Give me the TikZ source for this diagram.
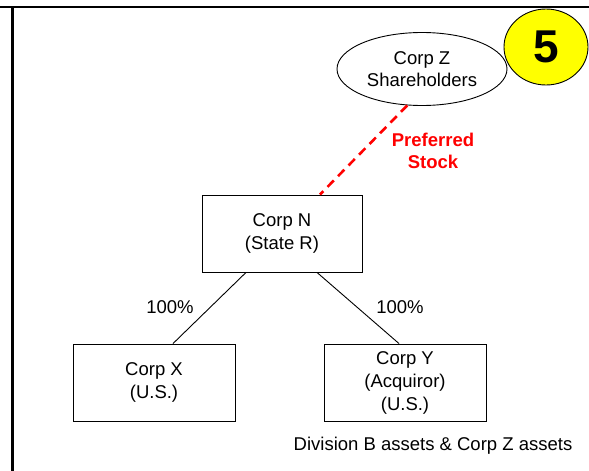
\documentclass[tikz,border=0pt]{standalone}
\usepackage{fontspec}
\setmainfont{Liberation Sans}
\usepackage{tikz}
\usetikzlibrary{shapes.geometric}
\definecolor{mRed}{HTML}{FF0000}
\definecolor{mYellow}{HTML}{FFFF00}
\tikzset{
  corpbox/.style={draw, rectangle, line width=0.9pt, minimum width=160pt,
                  minimum height=77pt, inner sep=0pt, align=center,
                  font=\fontsize{18.5}{23}\selectfont},
  holders/.style={draw, ellipse, line width=0.9pt, minimum width=170pt,
                  minimum height=73pt, inner sep=0pt, align=center,
                  font=\fontsize{18.5}{22}\selectfont},
  stepbadge/.style={draw, ellipse, line width=0.9pt, fill=mYellow,
                  minimum width=84pt, minimum height=76pt, inner sep=0pt,
                  font=\fontsize{46}{46}\selectfont\bfseries},
  ownline/.style={line width=0.9pt},
  stockline/.style={mRed, line width=2.6pt, dash pattern=on 9pt off 6pt},
  lbl/.style={inner sep=0pt, align=center, font=\fontsize{18.5}{23}\selectfont},
}
\begin{document}
\begin{tikzpicture}[x=1pt, y=-1pt]
    \useasboundingbox (0,0) rectangle (589,471);
    % frame
    \draw[line width=2.6pt] (0,7) -- (589,7);
    \draw[line width=2.6pt] (12.5,7) -- (12.5,471);
    % shareholders and step number
    \node[holders] (zsh) at (422,69) {Corp Z\\Shareholders};
    \node[stepbadge] (five) at (546,47) {5};
    % entities
    \node[corpbox] (corpN) at (282,233.5) {Corp N\\(State R)};
    \node[corpbox, minimum width=162pt] (corpX) at (154,382.5) {Corp X\\(U.S.)};
    \node[corpbox, minimum width=162pt] (corpY) at (405,382.5) {Corp Y\\(Acquiror)\\(U.S.)};
    % links
    \draw[stockline] (zsh.248) -- ([xshift=38pt]corpN.north);
    \draw[ownline] ([xshift=-36pt]corpN.south) -- ([xshift=19pt]corpX.north);
    \draw[ownline] ([xshift=35pt]corpN.south) -- ([xshift=-6pt]corpY.north);
    % labels
    \node[lbl, text=mRed, font=\fontsize{18.5}{22}\selectfont\bfseries] (pref) at (433,151) {Preferred\\Stock};
    \node[lbl] (pctX) at (170,307) {100\%};
    \node[lbl] (pctY) at (400,307) {100\%};
    \node[lbl] (assets) at (433,446) {Division B assets \& Corp Z assets};
\end{tikzpicture}
\end{document}
